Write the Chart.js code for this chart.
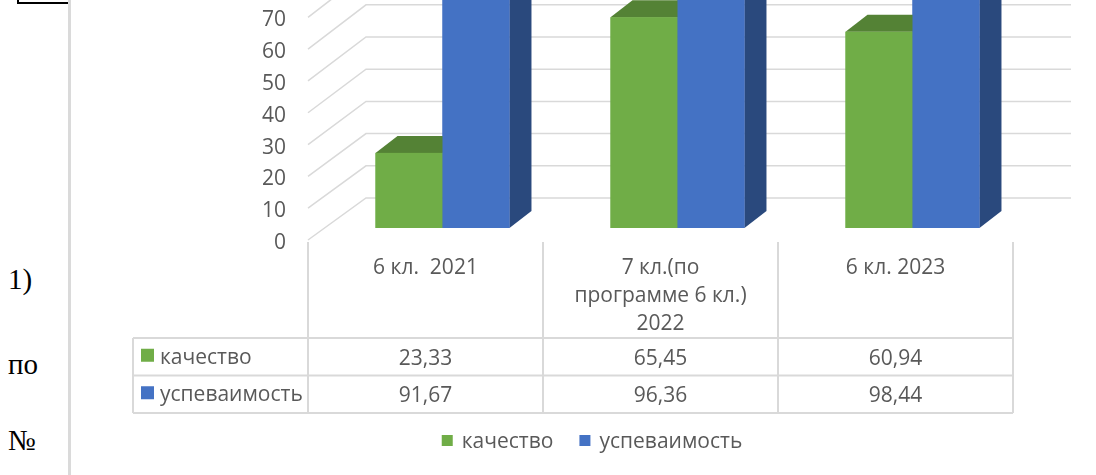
<!DOCTYPE html>
<html>
<head>
<meta charset="utf-8">
<script src="https://cdn.jsdelivr.net/npm/chart.js@4.4.1/dist/chart.umd.min.js"></script>
<style>
  body { margin: 0; width: 1096px; height: 475px; overflow: hidden; position: relative; background: #fff; }
  .doc { position: absolute; left: 8px; font: 29px "Liberation Serif", "Times New Roman", serif; line-height: 29px; color: #000; }
  #box { position: absolute; left: 17px; top: -20px; width: 50px; height: 20px; border: 2px solid #000; }
  #rule { position: absolute; left: 68px; top: 0; width: 3px; height: 475px; background: #dadada; }
  #chart { position: absolute; left: 0; top: -100px; }
</style>
</head>
<body>
<div id="box"></div>
<div id="rule"></div>
<div class="doc" style="top:265px">1)</div>
<div class="doc" style="top:350px">по</div>
<div class="doc" style="top:426px">№</div>
<canvas id="chart" width="1096" height="575"></canvas>
<script>
// данные диаграммы
const categories = [["6 кл.  2021"], ["7 кл.(по", "программе 6 кл.)", "2022"], ["6 кл. 2023"]];
const seriesNames = ["качество", "успеваимость"];
const kachestvo = [23.33, 65.45, 60.94];
const uspevaemost = [91.67, 96.36, 98.44];
const yTicks = [0, 10, 20, 30, 40, 50, 60, 70, 80, 90, 100];

// смещения "3D" относительно плоскости передних граней столбцов
const FRONT = { dx: -17, dy: 12, k: 0.988 };
const BACK = { dx: 41, dy: -30 };
const DEPTH = { dx: 22, dy: -17 };
const shades = [
  { front: "#70AD47", top: "#548235", side: "#4E7A30" },
  { front: "#4472C4", top: "#3A62A8", side: "#2A497D" },
];
const FONT = '21px "Open Sans", "Noto Sans", sans-serif';
const GREY = "#595959";
const LINE = "#d9d9d9";

const fmt = (v) => v.toFixed(2).replace(".", ",");

// передняя кромка (чуть другой масштаб из-за перспективы)
function frontY(y, v) {
  const y0 = y.getPixelForValue(0);
  return y0 + FRONT.dy - (y0 - y.getPixelForValue(v)) * FRONT.k;
}

const excel3d = {
  id: "excel3d",
  beforeDatasetsDraw(chart) {
    const { ctx, chartArea: a, scales: { y } } = chart;
    ctx.save();
    ctx.strokeStyle = LINE;
    ctx.lineWidth = 1.5;
    yTicks.forEach((v) => {
      const py = y.getPixelForValue(v);
      ctx.beginPath();
      ctx.moveTo(a.left + FRONT.dx, frontY(y, v));
      ctx.lineTo(a.left + BACK.dx, py + BACK.dy);
      ctx.lineTo(a.right + BACK.dx, py + BACK.dy);
      ctx.stroke();
    });
    ctx.restore();
  },
  afterDatasetsDraw(chart) {
    const ctx = chart.ctx;
    ctx.save();
    // слева направо: боковая грань, верх, затем передняя грань
    categories.forEach((c, i) => {
      chart.data.datasets.forEach((ds, d) => {
        const bar = chart.getDatasetMeta(d).data[i];
        const { x, y, base, width } = bar.getProps(["x", "y", "base", "width"], true);
        const l = x - width / 2, r = x + width / 2;
        ctx.fillStyle = shades[d].side;
        ctx.beginPath();
        ctx.moveTo(r, base);
        ctx.lineTo(r + DEPTH.dx, base + DEPTH.dy);
        ctx.lineTo(r + DEPTH.dx, y + DEPTH.dy);
        ctx.lineTo(r, y);
        ctx.closePath();
        ctx.fill();
        ctx.fillStyle = shades[d].top;
        ctx.beginPath();
        ctx.moveTo(l, y);
        ctx.lineTo(l + DEPTH.dx, y + DEPTH.dy);
        ctx.lineTo(r + DEPTH.dx, y + DEPTH.dy);
        ctx.lineTo(r, y);
        ctx.closePath();
        ctx.fill();
        ctx.fillStyle = shades[d].front;
        ctx.fillRect(l, y, width, base - y);
      });
    });
    ctx.restore();
  },
  afterDraw(chart) {
    const { ctx, chartArea: a, scales: { y } } = chart;
    const catW = (a.right - a.left) / categories.length;
    const left0 = a.left + FRONT.dx;
    const floorY = y.getPixelForValue(0) + FRONT.dy;
    ctx.save();
    ctx.font = FONT;
    ctx.fillStyle = GREY;

    // подписи оси значений (видимые до 70)
    ctx.textAlign = "right";
    ctx.textBaseline = "middle";
    yTicks.forEach((v) => {
      ctx.fillText(String(v), left0 - 22, frontY(y, v) + 3);
    });

    // таблица данных
    const tableLeft = left0 - 175;
    const tableRight = left0 + catW * categories.length;
    const rowTop = floorY + 98;
    const rowH = 37.5;
    ctx.strokeStyle = LINE;
    ctx.lineWidth = 2;
    ctx.beginPath();
    for (let i = 0; i <= categories.length; i++) {
      const cx = left0 + i * catW;
      ctx.moveTo(cx, floorY + 2);
      ctx.lineTo(cx, rowTop + 2 * rowH);
    }
    for (let r = 0; r <= 2; r++) {
      ctx.moveTo(tableLeft, rowTop + r * rowH);
      ctx.lineTo(tableRight, rowTop + r * rowH);
    }
    ctx.moveTo(tableLeft, rowTop);
    ctx.lineTo(tableLeft, rowTop + 2 * rowH);
    ctx.stroke();

    ctx.textAlign = "center";
    categories.forEach((lines, i) => {
      const cx = left0 + (i + 0.5) * catW;
      lines.forEach((t, k) => ctx.fillText(t, cx, floorY + 28 + k * 28));
    });

    const rows = [kachestvo, uspevaemost];
    rows.forEach((vals, r) => {
      const cy = rowTop + (r + 0.5) * rowH;
      ctx.textAlign = "center";
      ctx.fillStyle = GREY;
      vals.forEach((v, i) => ctx.fillText(fmt(v), left0 + (i + 0.5) * catW, cy + 2));
      ctx.fillStyle = shades[r].front;
      ctx.fillRect(tableLeft + 8, cy - 8, 13, 13);
      ctx.fillStyle = GREY;
      ctx.textAlign = "left";
      ctx.fillText(seriesNames[r], tableLeft + 27, cy + 1);
    });

    // легенда снизу
    const ly = floorY + 201;
    const widths = seriesNames.map((n) => ctx.measureText(n).width);
    const total = widths.reduce((s, w) => s + 20 + w, 0) + 26 * (seriesNames.length - 1);
    let lx = 592 - total / 2;
    ctx.textAlign = "left";
    seriesNames.forEach((n, i) => {
      ctx.fillStyle = shades[i].front;
      ctx.fillRect(lx, ly - 6, 11, 11);
      ctx.fillStyle = GREY;
      ctx.fillText(n, lx + 20, ly + 1);
      lx += 20 + widths[i] + 26;
    });
    ctx.restore();
  },
};

new Chart(document.getElementById("chart"), {
  type: "bar",
  data: {
    labels: categories.map((l) => l.join(" ")),
    datasets: [
      {
        label: seriesNames[0],
        data: kachestvo,
        backgroundColor: shades[0].front,
        borderWidth: 0,
        categoryPercentage: 0.57,
        barPercentage: 1,
      },
      {
        label: seriesNames[1],
        data: uspevaemost,
        backgroundColor: shades[1].front,
        borderWidth: 0,
        categoryPercentage: 0.57,
        barPercentage: 1,
      },
    ],
  },
  options: {
    responsive: false,
    animation: false,
    layout: { padding: { left: 325, right: 66, top: 6, bottom: 247 } },
    plugins: { legend: { display: false }, tooltip: { enabled: false } },
    scales: {
      x: { display: false },
      y: { display: false, min: 0, max: 100 },
    },
  },
  plugins: [excel3d],
});
</script>
</body>
</html>
